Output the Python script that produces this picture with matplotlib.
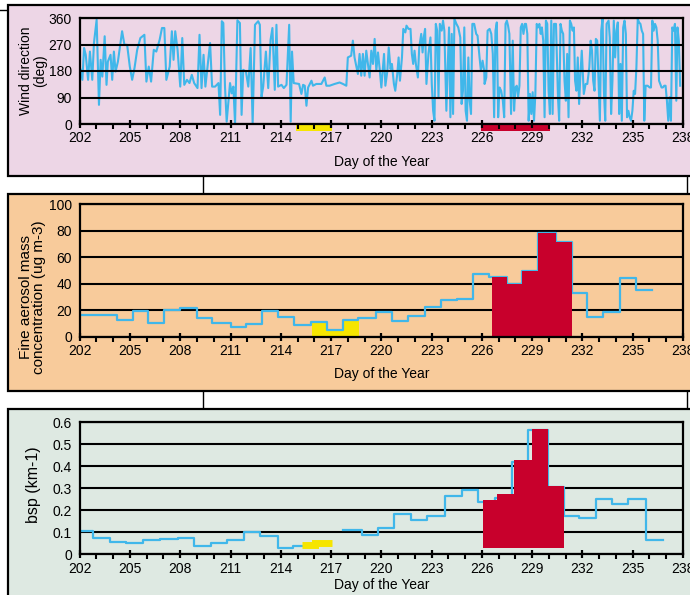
import numpy as np
import matplotlib
matplotlib.use("Agg")
import matplotlib.pyplot as plt
from matplotlib.patches import Rectangle
from matplotlib.lines import Line2D

plt.rcParams['font.family'] = ['Liberation Sans', 'DejaVu Sans']

# ---------------- data ----------------
day_ticks = list(range(202, 239, 3))

wind_day = [
    202.06, 202.16, 202.26, 202.36, 202.50, 202.61, 202.75, 202.85, 203.01, 203.15,
    203.25, 203.35, 203.49, 203.60, 203.68, 203.84, 203.94, 204.04, 204.14, 204.28,
    204.53, 204.67, 204.83, 204.99, 205.13, 205.27, 205.43, 205.62, 205.86, 205.98,
    206.12, 206.26, 206.42, 206.57, 206.77, 206.91, 207.05, 207.17, 207.37, 207.50,
    207.60, 207.70, 207.84, 208.00, 208.12, 208.24, 208.40, 208.55, 208.69, 208.83,
    209.03, 209.15, 209.27, 209.39, 209.50, 209.78, 209.90, 210.08, 210.28, 210.38,
    210.48, 210.57, 210.67, 210.77, 210.97, 211.07, 211.17, 211.27, 211.41, 211.56,
    211.66, 211.76, 211.92, 212.06, 212.20, 212.32, 212.46, 212.65, 212.75, 212.85,
    212.95, 213.11, 213.25, 213.39, 213.50, 213.64, 213.74, 213.84, 214.04, 214.18,
    214.34, 214.50, 214.59, 214.67, 214.77,
    215.09, 215.23, 215.33, 215.43, 215.53, 215.63, 215.83, 215.92, 216.12, 216.42,
    216.62, 216.72, 216.91, 217.21, 217.51, 217.71, 217.91, 218.0, 218.2, 218.3,
    218.4, 218.6, 218.7, 218.8, 218.9, 219.0, 219.1, 219.3, 219.4, 219.5,
    219.6, 219.7, 219.8, 219.9, 220.0,
    220.16, 220.24, 220.36, 220.44, 220.55, 220.63, 220.75, 220.83, 220.95, 221.03,
    221.11, 221.23, 221.31, 221.43, 221.50, 221.62, 221.74, 221.82, 221.90, 221.98,
    222.06, 222.18, 222.26, 222.38, 222.46, 222.53, 222.61, 222.69, 222.81, 222.93,
    223.01, 223.09, 223.17, 223.25, 223.33, 223.41, 223.49, 223.60, 223.68, 223.76,
    223.88, 223.96, 224.04, 224.12, 224.20, 224.28, 224.36, 224.48, 224.59, 224.71,
    224.79, 224.87, 224.95, 225.03, 225.11, 225.19, 225.27, 225.35, 225.43, 225.54,
    225.66, 225.74, 225.86, 225.94, 226.04, 226.14,
    226.16, 226.26, 226.34, 226.46, 226.56, 226.65, 226.73, 226.81, 226.89, 226.97,
    227.05, 227.15, 227.25, 227.33, 227.41, 227.49, 227.56, 227.64, 227.74, 227.84,
    227.92, 228.00, 228.08, 228.16, 228.24, 228.32, 228.40, 228.48, 228.56, 228.63,
    228.71, 228.79, 228.87, 228.95, 229.03, 229.11, 229.19, 229.27, 229.35, 229.43,
    229.51, 229.58, 229.66, 229.74, 229.82, 229.90, 229.98, 230.06, 230.14, 230.22,
    230.30, 230.42, 230.54, 230.61, 230.69, 230.77, 230.85, 230.93, 231.01, 231.09,
    231.17, 231.25, 231.33, 231.41, 231.49, 231.56, 231.64, 231.72, 231.80, 231.88,
    231.96, 232.08,
    232.19, 232.29, 232.41, 232.49, 232.57, 232.64, 232.72, 232.80, 232.88, 232.96,
    233.04, 233.12, 233.20, 233.28, 233.36, 233.44, 233.56, 233.63, 233.71, 233.79,
    233.87, 233.95, 234.03, 234.11, 234.19, 234.27, 234.35, 234.43, 234.51, 234.59,
    234.66, 234.74, 234.82, 234.90, 234.98, 235.06, 235.14, 235.22, 235.30, 235.38,
    235.46, 235.54, 235.62, 235.69, 235.77, 235.89, 236.01, 236.09, 236.17, 236.25,
    236.33, 236.41, 236.49, 236.57, 236.64, 236.72, 236.80, 236.88, 236.96, 237.04,
    237.12, 237.20, 237.28, 237.36, 237.44, 237.52, 237.60, 237.67, 237.75, 237.83,
]
wind_deg = [
    184, 150, 258, 235, 150, 246, 150, 275, 354, 65,
    218, 161, 298, 133, 212, 235, 150, 246, 178, 212,
    315, 269, 269, 195, 150, 190, 252, 292, 303, 144,
    195, 144, 252, 246, 286, 326, 326, 150, 195, 315,
    218, 315, 252, 127, 292, 133, 150, 139, 167, 139,
    122, 303, 122, 235, 127, 275, 127, 127, 139, 31,
    349, 343, 127, 8, 139, 104, 127, 2, 352, 343,
    31, 184, 178, 127, 258, 2, 337, 349, 337, 93,
    127, 246, 122, 286, 326, 116, 337, 127, 133, 122,
    133, 337, 8, 246, 139,
    136, 102, 133, 130, 62, 124, 147, 130, 136, 136,
    158, 130, 130, 136, 141, 136, 130, 226, 232, 283,
    226, 170, 238, 164, 238, 164, 249, 158, 249, 204,
    289, 181, 243, 187, 124,
    238, 130, 181, 260, 187, 204, 136, 113, 170, 226,
    147, 226, 323, 311, 334, 323, 323, 238, 204, 249,
    204, 158, 260, 306, 243, 294, 323, 136, 238, 294,
    136, 45, 11, 340, 317, 91, 340, 317, 351, 317,
    45, 193, 328, 23, 306, 34, 357, 340, 328, 294,
    68, 113, 328, 45, 11, 226, 79, 34, 340, 340,
    306, 300, 226, 181, 215, 181,
    136, 158, 317, 323, 306, 238, 23, 317, 345, 23,
    124, 113, 79, 23, 340, 351, 334, 306, 34, 283,
    45, 124, 130, 91, 130, 328, 340, 306, 340, 340,
    306, 11, 102, 34, 108, 11, 102, 340, 328, 340,
    306, 328, 283, 23, 351, 340, 113, 34, 351, 34,
    340, 340, 91, 11, 340, 317, 306, 147, 79, 238,
    23, 351, 340, 317, 328, 147, 113, 226, 68, 170,
    249, 102,
    136, 136, 193, 283, 249, 147, 113, 289, 283, 147,
    11, 317, 357, 113, 11, 340, 351, 294, 34, 147,
    351, 226, 317, 345, 34, 204, 11, 328, 351, 306,
    23, 45, 23, 11, 45, 113, 102, 193, 357, 345,
    340, 317, 306, 11, 130, 130, 124, 124, 351, 317,
    340, 328, 283, 147, 136, 124, 124, 130, 130, 79,
    11, 91, 11, 328, 317, 340, 79, 328, 283, 130,
]
yellow_period = [214.9, 217.05]
red_period = [225.95, 230.05]

aer_edges = [202.0, 204.2, 205.18, 206.1, 207.05, 207.99, 208.98, 209.92, 211.0, 211.92,
             212.86, 213.85, 214.79, 215.78, 216.78, 217.69, 218.62, 219.68, 220.65, 221.61,
             222.6, 223.54, 224.49, 225.49, 226.44, 227.47, 228.41, 229.32, 230.42, 231.39,
             232.29, 233.24, 234.24, 235.19, 236.13]
aer_vals = [16.1, 12.6, 19.6, 10.1, 20.1, 21.9, 13.8, 10.1, 7.5, 9.3,
            19.6, 15.1, 8.8, 10.8, 5.0, 12.6, 13.8, 18.9, 11.8, 15.8,
            22.6, 27.4, 28.7, 47.0, 45.3, 39.5, 49.6, 78.0, 71.7, 33.2,
            15.1, 18.9, 44.0, 35.5]
aer_yellow_edges = [215.84, 216.78, 217.69, 218.66]
aer_yellow_vals = [10.8, 5.0, 11.8]
aer_red_edges = [226.58, 227.47, 228.41, 229.32, 230.42, 231.39]
aer_red_vals = [45.3, 39.5, 49.6, 78.0, 71.7]

bsp_edges = [202.0, 202.82, 203.81, 204.76, 205.8, 206.79, 207.89, 208.84, 209.82, 210.77,
             211.8, 212.76, 213.81, 214.75, 215.3, 217.73, 218.82, 219.82, 220.77, 221.77,
             222.74, 223.79, 224.83, 225.78, 226.78, 227.77, 228.77, 229.92, 230.9, 231.79,
             232.78, 233.78, 234.73, 235.79, 236.78]
bsp_vals = [0.106, 0.073, 0.056, 0.050, 0.064, 0.068, 0.076, 0.039, 0.053, 0.065,
            0.100, 0.085, 0.027, 0.039, np.nan, 0.111, 0.088, 0.118, 0.182, 0.156,
            0.176, 0.265, 0.291, 0.236, 0.255, 0.418, 0.565, 0.308, 0.174, 0.164,
            0.250, 0.227, 0.253, 0.065]
bsp_yellow_edges = [215.25, 216.04, 217.04]
bsp_yellow_vals = [0.042, 0.050]
bsp_red_edges = [226.08, 226.92, 227.93, 228.97, 229.96, 230.9]
bsp_red_vals = [0.247, 0.273, 0.427, 0.568, 0.311]
bsp_red_base = 0.028

# ---------------- style ----------------
BLUE = '#40B7EA'
RED = '#C8002C'
YELLOW = '#F6E500'
PINK = '#EDD6E6'
PEACH = '#F8CB9B'
GREEN = '#DEE9E2'

W, H = 690, 595
fig = plt.figure(figsize=(W / 100, H / 100), dpi=100)
fig.patch.set_facecolor('white')

def fx(px):
    return px / W

def fy(py):
    return 1 - py / H

def box(x0, y0, x1, y1, color):
    r = Rectangle((fx(x0), fy(y1)), (x1 - x0) / W, (y1 - y0) / H,
                  transform=fig.transFigure, facecolor=color, edgecolor='black',
                  linewidth=1.6, zorder=-10)
    fig.add_artist(r)

def vline(x, y0, y1):
    fig.add_artist(Line2D([fx(x), fx(x)], [fy(y0), fy(y1)], transform=fig.transFigure,
                          color='black', lw=1.0, zorder=-11))

box(8, 5, 702, 176, PINK)
box(8, 194, 702, 391, PEACH)
box(8, 409, 702, 610, GREEN)
for x in (203.3, 686.7):
    vline(x, 176, 194)
    vline(x, 391, 409)
fig.add_artist(Line2D([0, fx(8)], [fy(10), fy(10)], transform=fig.transFigure,
                      color='black', lw=1.0, zorder=-11))

AX_L, AX_R = 79.7, 683.0

def make_axes(top, bottom, ylim, yticks, yticklabels, grid_on_top=False):
    ax = fig.add_axes([fx(AX_L), fy(bottom), (AX_R - AX_L) / W, (bottom - top) / H])
    ax.set_facecolor('none')
    ax.set_xlim(202, 238)
    ax.set_ylim(*ylim)
    ax.set_xticks(day_ticks)
    ax.set_xticklabels([str(d) for d in day_ticks])
    ax.set_xticks(np.arange(202, 239, 1), minor=True)
    ax.set_yticks(yticks)
    ax.set_yticklabels(yticklabels)
    ax.tick_params(axis='x', which='major', direction='inout', length=5.5, width=1.6,
                   labelsize=10, pad=2.5, color='black')
    ax.tick_params(axis='x', which='minor', direction='out', length=3.3, width=1.5)
    ax.tick_params(axis='y', length=0, labelsize=10, pad=5.5)
    for s in ax.spines.values():
        s.set_linewidth(1.6)
        s.set_zorder(4)
    ax.grid(axis='y', color='black', lw=1.5)
    ax.set_axisbelow(not grid_on_top)
    return ax

def steps(edges, values):
    e = np.asarray(edges, float)
    v = np.asarray(values, float)
    return np.repeat(e, 2)[1:-1], np.repeat(v, 2)

# Panel 1: wind direction
ax1 = make_axes(18, 124, (0, 360), [0, 90, 180, 270, 360],
                ['0', '90', '180', '270', '360'], grid_on_top=True)
ax1.plot(wind_day, wind_deg, color=BLUE, lw=1.5, zorder=2)
for per, col in ((yellow_period, YELLOW), (red_period, RED)):
    ax1.add_patch(Rectangle((per[0], -23), per[1] - per[0], 23, facecolor=col,
                            edgecolor='none', clip_on=False, zorder=1.5))

# Panel 2: fine aerosol
ax2 = make_axes(204, 336.7, (0, 100), [0, 20, 40, 60, 80, 100],
                ['0', '20', '40', '60', '80', '100'])
ax2.stairs(aer_yellow_vals, aer_yellow_edges, baseline=0, fill=True, color=YELLOW, zorder=1.5)
x, y = steps(aer_edges, aer_vals)
ax2.plot(x, y, color=BLUE, lw=1.6, zorder=2)
ax2.stairs(aer_red_vals, aer_red_edges, baseline=0, fill=True, color=RED, zorder=3)

# Panel 3: bsp
ax3 = make_axes(422.3, 554.3, (0, 0.6), [0, 0.1, 0.2, 0.3, 0.4, 0.5, 0.6],
                ['0', '0.1', '0.2', '0.3', '0.4', '0.5', '0.6'])
x, y = steps(bsp_edges, bsp_vals)
ax3.plot(x, y, color=BLUE, lw=1.6, zorder=2)
x, y = steps(bsp_yellow_edges, bsp_yellow_vals)
ax3.plot(x, y, color=YELLOW, lw=5, solid_capstyle='butt', solid_joinstyle='miter', zorder=3)
ax3.stairs(bsp_red_vals, bsp_red_edges, baseline=bsp_red_base, fill=True, color=RED, zorder=3)

# Labels
xc = (AX_L + AX_R) / 2
for py in (162, 374, 585):
    fig.text(fx(xc), fy(py), 'Day of the Year', ha='center', va='center', fontsize=10)

fig.text(fx(33.3), fy(71), 'Wind direction\n(deg)', rotation=90, ha='center', va='center',
         fontsize=10, multialignment='center', linespacing=1.0)
fig.text(fx(32.6), fy(297), 'Fine aerosol mass\nconcentration (ug m-3)', rotation=90,
         ha='center', va='center', fontsize=11, multialignment='center', linespacing=0.9)
fig.text(fx(33.7), fy(485), 'bsp (km-1)', rotation=90, ha='center', va='center', fontsize=11.5)

fig.savefig('out.png', dpi=100, facecolor='white')
